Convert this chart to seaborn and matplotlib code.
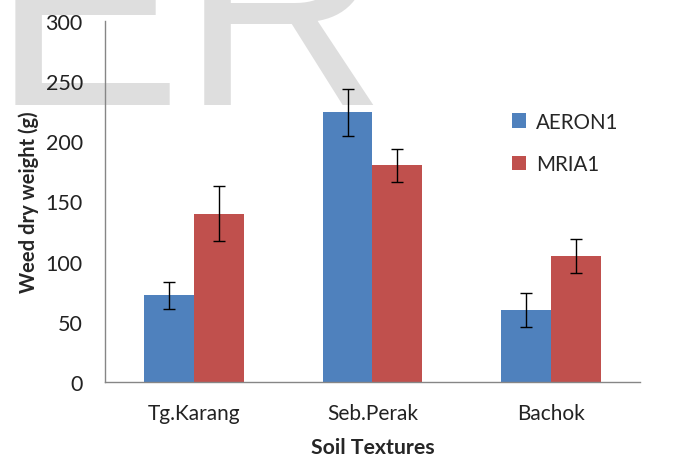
import matplotlib
matplotlib.use("Agg")
import matplotlib.pyplot as plt
import seaborn as sns
import numpy as np
import pandas as pd

sites = ["Tg.Karang", "Seb.Perak", "Bachok"]
aeron1 = [72, 224, 60]
aeron1_err = [11.5, 19.5, 14]
mria1 = [140, 180, 104.5]
mria1_err = [23, 14, 14.3]

df = pd.DataFrame({
    "site": sites * 2,
    "variety": ["AERON1"] * 3 + ["MRIA1"] * 3,
    "weight": aeron1 + mria1,
})
errs = aeron1_err + mria1_err

sns.set_style("white")
plt.rcParams["font.family"] = ["Lato", "DejaVu Sans"]

fig = plt.figure(figsize=(6.78, 4.60), dpi=100)
ax = fig.add_axes([0.1549, 0.1674, 0.789, 0.7848])
ax.set_zorder(1)
ax.patch.set_alpha(0)

# faint watermark behind the chart
fig.text(-0.012, 0.772, "ER", fontsize=205, color="#dedede",
         family="Liberation Sans", va="baseline", ha="left", zorder=0)

sns.barplot(data=df, x="site", y="weight", hue="variety",
            palette=["#4F81BD", "#C0504D"], width=0.56, gap=0,
            saturation=1, linewidth=0, errorbar=None, ax=ax, zorder=2)

# error bars placed on the bar centres seaborn computed
bars = [p for p in ax.patches if p.get_height() > 0]
xs = [p.get_x() + p.get_width() / 2 for p in bars]
hs = [p.get_height() for p in bars]
ax.errorbar(xs, hs, yerr=errs, fmt="none", ecolor="black",
            elinewidth=1, capsize=4.5, capthick=1, zorder=3)

ax.set_xlim(-0.5, 2.5)
ax.set_ylim(0, 300)
ax.set_yticks(range(0, 301, 50))
ax.set_xticks([-0.5, 0.5, 1.5, 2.5], minor=True)
ax.tick_params(axis="x", which="major", length=0, pad=15, labelsize=15, labelcolor="#222222")
ax.tick_params(axis="x", which="minor", length=6, color="#868686", width=1)
ax.tick_params(axis="y", length=5, color="#868686", width=1, pad=11,
               labelsize=15.5, labelcolor="#222222")
for s in ["top", "right"]:
    ax.spines[s].set_visible(False)
for s in ["left", "bottom"]:
    ax.spines[s].set_color("#868686")
    ax.spines[s].set_linewidth(1)

ax.set_xlabel("Soil Textures", fontsize=15.3, fontweight="bold", labelpad=10)
ax.set_ylabel("Weed dry weight (g)", fontsize=14.5, fontweight="bold", labelpad=5)

ax.legend(frameon=False, loc="upper left", bbox_to_anchor=(0.728, 0.795),
          bbox_transform=fig.transFigure, fontsize=14.8, handlelength=0.7,
          handleheight=0.7, handletextpad=0.45, labelspacing=1.1)

fig.savefig("out.png", dpi=100)
